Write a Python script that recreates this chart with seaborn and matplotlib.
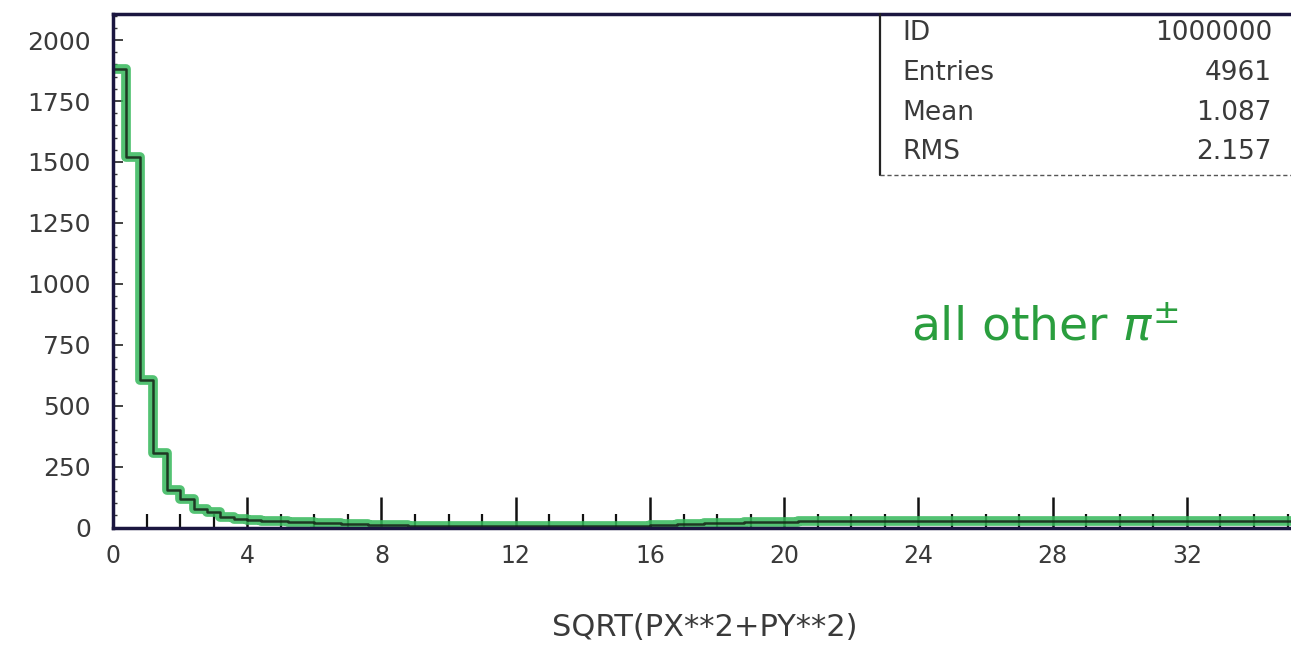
import numpy as np
import pandas as pd
import matplotlib.pyplot as plt
import matplotlib.lines as mlines
import seaborn as sns

# histogram contents, bins of width 0.4 from 0 to 40
bin_width = 0.4
counts = [
    1880, 1520, 605, 305, 155, 115, 75, 65, 45, 35,
    30, 28, 26, 24, 22, 20, 18, 16, 14, 12,
    10, 9, 8, 8, 7, 7, 6, 6, 6, 6,
    6, 5, 6, 5, 6, 6, 7, 6, 7, 8,
    9, 11, 13, 15, 17, 18, 20, 21, 22, 23,
    24, 25, 25, 26, 26, 27, 27, 27, 28, 28,
    27, 28, 27, 26, 27, 28, 27, 26, 27, 28,
    27, 26, 27, 28, 27, 27, 26, 27, 28, 27,
    27, 28, 27, 26, 27, 28, 27, 26, 27, 28,
    27, 26, 27, 28, 27, 26, 27, 28, 27, 27,
]
x_ticks = [0, 4, 8, 12, 16, 20, 24, 28, 32]
y_ticks = [0, 250, 500, 750, 1000, 1250, 1500, 1750, 2000]
stats_names = ["ID", "Entries", "Mean", "RMS"]
stats_values = ["1000000", "4961", "1.087", "2.157"]

edges = [round(i * bin_width, 2) for i in range(len(counts) + 1)]
df = pd.DataFrame({"pt": [e + bin_width / 2 for e in edges[:-1]], "n": counts})

sns.set_theme(style="white")
plt.rcParams["font.family"] = ["DejaVu Sans"]

W, H = 1291, 645
fig = plt.figure(figsize=(W / 100, H / 100), dpi=100)
x0, y0 = 113, 527.5
px_per_x = 33.56
ax = fig.add_axes([x0 / W, (H - y0) / H, 40 * px_per_x / W, (y0 - 14) / H])

# highlighter pen over the printed line
sns.histplot(data=df, x="pt", weights="n", bins=edges, element="step", fill=False,
             color="#35b85a", linewidth=7, alpha=0.85, ax=ax)
sns.histplot(data=df, x="pt", weights="n", bins=edges, element="step", fill=False,
             color="#152015", linewidth=1.8, alpha=0.85, ax=ax)

ax.set_xlim(0, 40)
ax.set_ylim(0, 2107)
ax.set_xlabel("")
ax.set_ylabel("")
ax.set_xticks(x_ticks)
ax.set_xticklabels([str(v) for v in x_ticks])
ax.set_xticks(np.arange(0, 41, 1), minor=True)
ax.set_yticks(y_ticks)
ax.set_yticklabels([str(v) for v in y_ticks])
ax.set_yticks(np.arange(0, 2101, 50), minor=True)
ax.tick_params(axis="x", which="major", direction="in", length=22, width=1.8,
               color="#111111", labelsize=17, labelcolor="#3a3a3a", pad=12, bottom=True)
ax.tick_params(axis="x", which="minor", direction="in", length=10, width=1.6,
               color="#111111", bottom=True)
ax.tick_params(axis="y", which="major", direction="in", length=7, width=1.2,
               color="#222222", labelsize=18, labelcolor="#3a3a3a", pad=16, left=True)
ax.tick_params(axis="y", which="minor", direction="in", length=3, width=1.0,
               color="#333333", left=True)
for side in ["left", "top", "bottom", "right"]:
    ax.spines[side].set_color("#1b1640")
    ax.spines[side].set_linewidth(2.5)

# statistics box
fig.add_artist(mlines.Line2D([880 / W, 880 / W], [1 - 14 / H, 1 - 175 / H],
                             color="#222222", linewidth=1.6))
fig.add_artist(mlines.Line2D([880 / W, 1.0], [1 - 175 / H, 1 - 175 / H],
                             color="#555555", linewidth=1.0, linestyle=(0, (3, 2))))
rows_y = [33, 73, 113, 152]
for name, val, yy in zip(stats_names, stats_values, rows_y):
    fig.text(902 / W, 1 - yy / H, name, fontsize=19, color="#3a3a3a",
             ha="left", va="center")
    fig.text(1272 / W, 1 - yy / H, val, fontsize=19, color="#3a3a3a",
             ha="right", va="center")

fig.text(1045 / W, 1 - 328 / H, "all other $\\pi^{\\pm}$", fontsize=34,
         color="#2a9e3e", ha="center", va="center")

fig.text(705 / W, 1 - 628 / H, "SQRT(PX**2+PY**2)", fontsize=22,
         color="#3a3a3a", ha="center", va="center")

fig.savefig("out.png", dpi=100, facecolor="white")
